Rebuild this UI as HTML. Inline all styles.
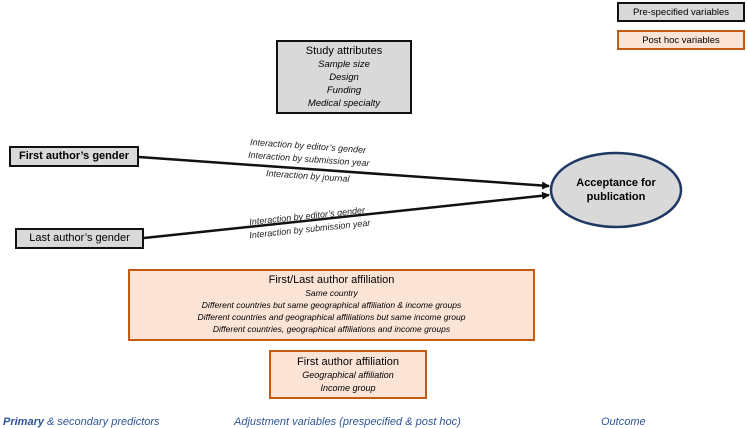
<!DOCTYPE html>
<html><head><style>
body{margin:0;width:747px;height:428px;background:#fff;position:relative;font-family:"Liberation Sans",sans-serif;overflow:hidden}
.b{position:absolute;box-sizing:border-box;text-align:center}
.g{background:#d9d9d9;border:2px solid #111}
.o{background:#fbe3d6;border:2px solid #c55a11}
.t{position:absolute;font-size:9px;font-style:italic;color:#222;white-space:nowrap}
.bot{position:absolute;top:416px;font-size:11px;font-style:italic;color:#2f5597;white-space:nowrap}
</style></head><body>
<div class="b g" style="left:617px;top:2px;width:128px;height:20px;font-size:9.5px;line-height:17px">Pre-specified variables</div>
<div class="b o" style="left:617px;top:30px;width:128px;height:20px;font-size:9.5px;line-height:17px">Post hoc variables</div>
<div class="b g" style="left:276px;top:40px;width:136px;height:74px;padding-top:3px;font-size:11px;line-height:13px">Study attributes<div style="font-style:italic;font-size:9.5px;line-height:13px">Sample size<br>Design<br>Funding<br>Medical specialty</div></div>
<div class="b g" style="left:9px;top:146px;width:130px;height:21px;border-width:2.5px;font-size:11px;font-weight:bold;line-height:16px">First author’s gender</div>
<div class="b g" style="left:15px;top:228px;width:129px;height:21px;font-size:11px;line-height:17px">Last author’s gender</div>
<svg style="position:absolute;left:0;top:0" width="747" height="428">
<defs><marker id="a" markerWidth="8" markerHeight="8" refX="7" refY="4" orient="auto" markerUnits="userSpaceOnUse"><path d="M0,0 L8,4 L0,8z" fill="#111"/></marker></defs>
<line x1="139" y1="157" x2="549" y2="186" stroke="#111" stroke-width="2.5" marker-end="url(#a)"/>
<line x1="144" y1="238" x2="549" y2="195" stroke="#111" stroke-width="2.5" marker-end="url(#a)"/>
<ellipse cx="616" cy="190" rx="65" ry="37" fill="#d9d9d9" stroke="#1f3864" stroke-width="2.5"/>
<text x="616" y="186" text-anchor="middle" font-size="11" font-weight="bold" font-family="Liberation Sans">Acceptance for</text>
<text x="616" y="200" text-anchor="middle" font-size="11" font-weight="bold" font-family="Liberation Sans">publication</text>
</svg>
<div class="t" style="left:250px;top:141px;transform:rotate(4deg)">Interaction by editor’s gender</div>
<div class="t" style="left:248px;top:154px;transform:rotate(4deg)">Interaction by submission year</div>
<div class="t" style="left:266px;top:171px;transform:rotate(4deg)">Interaction by journal</div>
<div class="t" style="left:249px;top:211px;transform:rotate(-6deg)">Interaction by editor’s gender</div>
<div class="t" style="left:249px;top:224px;transform:rotate(-6deg)">Interaction by submission year</div>
<div class="b o" style="left:128px;top:269px;width:407px;height:72px;padding-top:3px;font-size:11px;line-height:13px">First/Last author affiliation<div style="font-style:italic;font-size:8.5px;line-height:12px">Same country<br>Different countries but same geographical affiliation &amp; income groups<br>Different countries and geographical affiliations but same income group<br>Different countries, geographical affiliations and income groups</div></div>
<div class="b o" style="left:269px;top:350px;width:158px;height:49px;padding-top:4px;font-size:11px;line-height:13px">First author affiliation<div style="font-style:italic;font-size:9px;line-height:13px">Geographical affiliation<br>Income group</div></div>
<div class="bot" style="left:3px"><b>Primary</b> &amp; secondary predictors</div>
<div class="bot" style="left:234px">Adjustment variables (prespecified &amp; post hoc)</div>
<div class="bot" style="left:601px">Outcome</div>
</body></html>
